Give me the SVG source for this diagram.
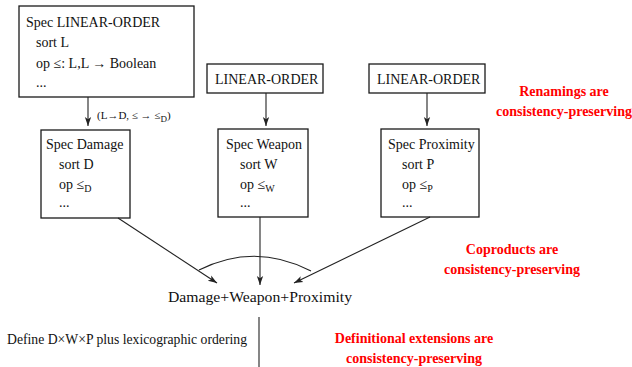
<svg xmlns="http://www.w3.org/2000/svg" width="632" height="367" viewBox="0 0 632 367">
<defs>
<style>
.box{fill:#fff;stroke:#1a1a1a;stroke-width:1.3}
.t{font-size:14px;fill:#111}
.big{font-size:15.5px}
.sm{font-size:11px}
.red{font-size:14px;font-weight:bold;fill:#ff0000;text-anchor:middle}
.ln{fill:none;stroke:#222;stroke-width:1.1}
</style>
<marker id="ah" viewBox="0 0 10 10" refX="10" refY="5" markerWidth="9" markerHeight="9" markerUnits="userSpaceOnUse" orient="auto">
<path d="M0,1.5 L10,5 L0,8.5 L2.5,5 Z" fill="#222"/>
</marker>
</defs>
<rect width="632" height="367" fill="#fff"/>
<g font-family="Liberation Serif, serif">
<g id="spec-linear-order">
<rect class="box" x="19" y="6" width="175" height="91"/>
<text class="t" x="26" y="27">Spec LINEAR-ORDER</text>
<text class="t" x="36" y="47">sort L</text>
<text class="t" x="36" y="68">op ≤: L,L → Boolean</text>
<text class="t" x="36" y="87">...</text>
</g>

<g id="linear-order-2">
<rect class="box" x="207" y="64" width="116" height="29"/>
<text class="t" x="215" y="84">LINEAR-ORDER</text>
</g>

<g id="linear-order-3">
<rect class="box" x="369" y="64" width="116" height="29"/>
<text class="t" x="377" y="84">LINEAR-ORDER</text>
</g>

<g id="spec-damage">
<rect class="box" x="41" y="130" width="89" height="88"/>
<text class="t" x="46" y="149">Spec Damage</text>
<text class="t" x="59" y="169">sort D</text>
<text class="t" x="59" y="189">op ≤<tspan font-size="10" dy="3">D</tspan></text>
<text class="t" x="59" y="207">...</text>
</g>

<g id="spec-weapon">
<rect class="box" x="218" y="129" width="90" height="88"/>
<text class="t" x="226" y="149">Spec Weapon</text>
<text class="t" x="240" y="169">sort W</text>
<text class="t" x="240" y="189">op ≤<tspan font-size="10" dy="3">W</tspan></text>
<text class="t" x="240" y="207">...</text>
</g>

<g id="spec-proximity">
<rect class="box" x="381" y="129" width="98" height="88"/>
<text class="t" x="388" y="149">Spec Proximity</text>
<text class="t" x="402" y="169">sort P</text>
<text class="t" x="402" y="189">op ≤<tspan font-size="10" dy="3">P</tspan></text>
<text class="t" x="402" y="207">...</text>
</g>

<g id="coproduct">
<text class="t big" x="168" y="302" textLength="184" lengthAdjust="spacingAndGlyphs">Damage+Weapon+Proximity</text>
</g>

<g id="define">
<text class="t" x="7" y="344" textLength="240" lengthAdjust="spacingAndGlyphs">Define D×W×P plus lexicographic ordering</text>
</g>

<g id="connectors">
<line class="ln" x1="88" y1="97" x2="88" y2="126" marker-end="url(#ah)"/>
<text class="t sm" x="97" y="119">(L→D, ≤ → ≤<tspan font-size="9" dy="3">D</tspan><tspan dy="-3">)</tspan></text>
<line class="ln" x1="266" y1="93" x2="266" y2="126" marker-end="url(#ah)"/>
<line class="ln" x1="427" y1="93" x2="427" y2="126" marker-end="url(#ah)"/>
<line class="ln" x1="118" y1="218" x2="217" y2="283" marker-end="url(#ah)"/>
<line class="ln" x1="260" y1="217" x2="260" y2="285" marker-end="url(#ah)"/>
<line class="ln" x1="430" y1="217" x2="294" y2="283" marker-end="url(#ah)"/>
<path class="ln" d="M199,270 Q255,242 311,271"/>
<line class="ln" x1="259" y1="317" x2="259" y2="367"/>
</g>

<g id="notes">
<text class="red" x="564" y="96">Renamings are</text>
<text class="red" x="564" y="116">consistency-preserving</text>
<text class="red" x="512" y="254">Coproducts are</text>
<text class="red" x="512" y="274">consistency-preserving</text>
<text class="red" x="414" y="343">Definitional extensions are</text>
<text class="red" x="414" y="363">consistency-preserving</text>
</g>
</g>
</svg>
